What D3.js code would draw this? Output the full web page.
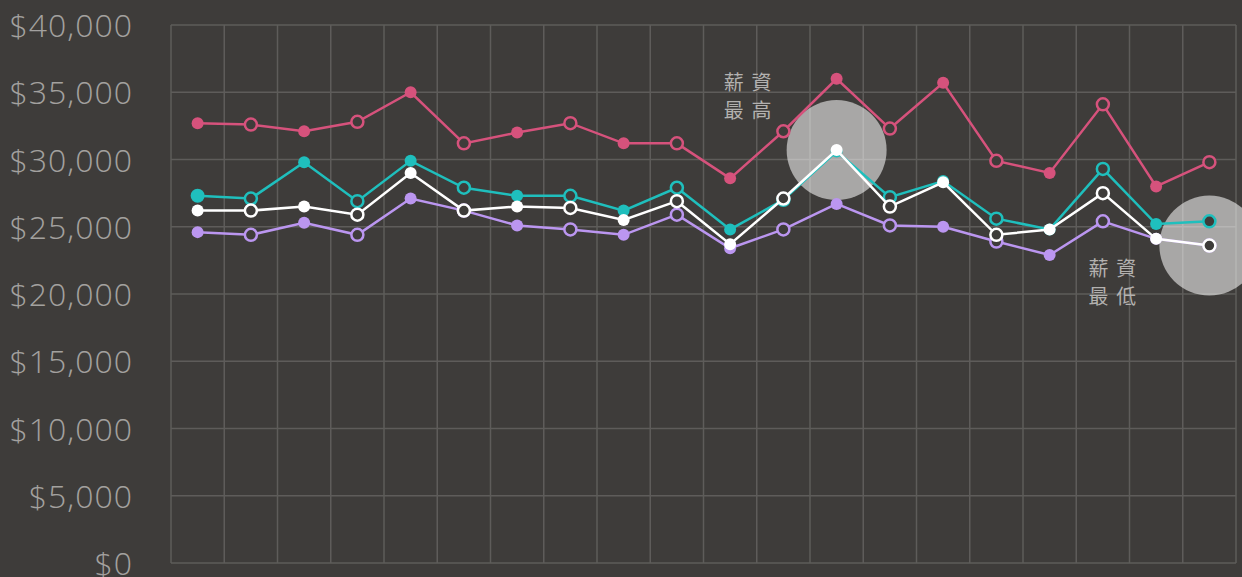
<!DOCTYPE html>
<html>
<head>
<meta charset="utf-8">
<script src="https://d3js.org/d3.v7.min.js"></script>
<style>
  html, body { margin: 0; padding: 0; background: #3e3c3a; }
  svg { display: block; }
</style>
</head>
<body>
<svg width="1242" height="577"></svg>
<script>
var svg = d3.select("svg"),
    width = +svg.attr("width"),
    height = +svg.attr("height");

var categories = d3.range(1, 21).map(String);

var pinkValues = [32700, 32600, 32100, 32800, 35000, 31200, 32000, 32700, 31200, 31200,
                  28600, 32100, 36000, 32300, 35700, 29900, 29000, 34100, 28000, 29800];
var tealValues = [27300, 27100, 29800, 26900, 29900, 27900, 27300, 27300, 26200, 27900,
                  24800, 27000, 30600, 27200, 28400, 25600, 24800, 29300, 25200, 25400];
var whiteValues = [26200, 26200, 26500, 25900, 29000, 26200, 26500, 26400, 25500, 26900,
                   23700, 27100, 30700, 26500, 28300, 24400, 24800, 27500, 24100, 23600];
var lavenderValues = [24600, 24400, 25300, 24400, 27100, 26200, 25100, 24800, 24400, 25900,
                      23400, 24800, 26700, 25100, 25000, 23900, 22900, 25400, 24100, 23600];

var yTicks = [0, 5000, 10000, 15000, 20000, 25000, 30000, 35000, 40000];

var noteHigh = ["薪資", "最高"];
var noteLow = ["薪資", "最低"];

var series = [
    { name: "pink", color: "#d6527c", values: pinkValues },
    { name: "lavender", color: "#bb96f0", values: lavenderValues },
    { name: "teal", color: "#1fbfbd", values: tealValues },
    { name: "white", color: "#ffffff", values: whiteValues }
];

var bg = "#3e3c3a",
    gridColor = "#5e5c5a";

var x = d3.scaleBand().domain(categories).range([171, 1236]).padding(0);
var xp = function (c) { return x(c) + x.bandwidth() / 2; };
var y = d3.scaleLinear().domain([0, 40000]).range([563, 25]);

// grid
var grid = svg.append("g");
grid.selectAll("line.h")
    .data(yTicks)
    .enter().append("line")
    .attr("x1", 171).attr("x2", 1236)
    .attr("y1", function (d) { return y(d); })
    .attr("y2", function (d) { return y(d); })
    .attr("stroke", gridColor).attr("stroke-width", 1.5);

grid.selectAll("line.v")
    .data(categories.concat(["end"]))
    .enter().append("line")
    .attr("x1", function (d, i) { return 171 + i * x.bandwidth(); })
    .attr("x2", function (d, i) { return 171 + i * x.bandwidth(); })
    .attr("y1", y(40000)).attr("y2", y(0))
    .attr("stroke", gridColor).attr("stroke-width", 1.5);

// y axis labels
var yAxis = d3.axisLeft(y)
    .tickValues(yTicks)
    .tickSize(0)
    .tickPadding(0)
    .tickFormat(function (d) { return "$" + d3.format(",")(d); });

svg.append("g")
    .attr("transform", "translate(133,0)")
    .call(yAxis)
    .call(function (g) { g.select(".domain").remove(); })
    .selectAll("text")
    .attr("fill", "#a3a19f")
    .attr("font-family", "'Open Sans', sans-serif")
    .attr("font-weight", 300)
    .attr("font-size", 32)
    .attr("letter-spacing", 1)
    .attr("dy", "0.36em");

// highlight circles around max / min of white series
var iMax = d3.maxIndex(whiteValues),
    iMin = d3.minIndex(whiteValues);

var highlight = svg.append("g");
[iMax, iMin].forEach(function (i) {
    highlight.append("circle")
        .attr("cx", xp(categories[i]))
        .attr("cy", y(whiteValues[i]))
        .attr("r", 50)
        .attr("fill", "#ffffff")
        .attr("fill-opacity", 0.55);
});

// notes
var notes = svg.append("g")
    .attr("font-family", "'Noto Sans CJK TC', sans-serif")
    .attr("font-size", 20)
    .attr("fill", "#b3b1af")
    .attr("letter-spacing", 8);

function addNote(lines, cx, top) {
    lines.forEach(function (t, k) {
        notes.append("text")
            .attr("x", cx + 4)
            .attr("y", top + k * 28)
            .attr("text-anchor", "middle")
            .text(t);
    });
}
addNote(noteHigh, xp(categories[iMax]) - 89, y(whiteValues[iMax]) - 60);
addNote(noteLow, xp(categories[iMin]) - 97, y(whiteValues[iMin]) + 30);

// series
var line = d3.line()
    .x(function (d, i) { return xp(categories[i]); })
    .y(function (d) { return y(d); });

series.forEach(function (s) {
    var g = svg.append("g");
    g.append("path")
        .datum(s.values)
        .attr("d", line)
        .attr("fill", "none")
        .attr("stroke", s.color)
        .attr("stroke-width", 2.5);

    g.selectAll("circle")
        .data(s.values)
        .enter().append("circle")
        .attr("cx", function (d, i) { return xp(categories[i]); })
        .attr("cy", function (d) { return y(d); })
        .attr("r", function (d, i) { return (s.name === "teal" && i === 0) ? 7 : 6; })
        .attr("fill", function (d, i) { return i % 2 === 0 ? s.color : bg; })
        .attr("stroke", s.color)
        .attr("stroke-width", function (d, i) { return i % 2 === 0 ? 0 : 2.5; });
});
</script>
</body>
</html>
